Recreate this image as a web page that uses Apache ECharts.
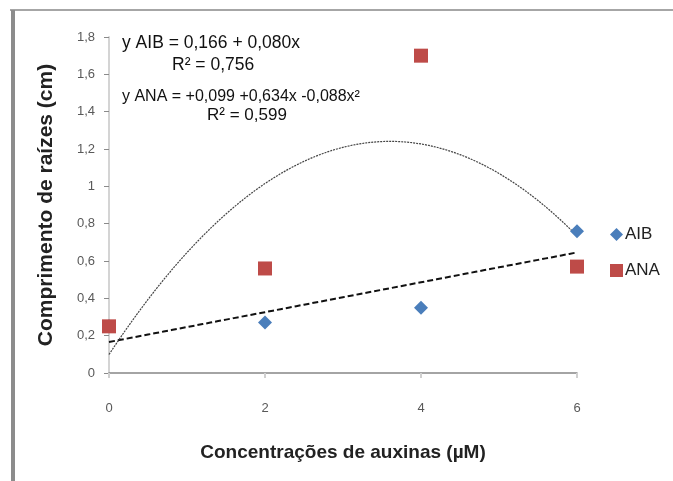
<!DOCTYPE html>
<html>
<head>
<meta charset="utf-8">
<script src="https://cdn.jsdelivr.net/npm/echarts@6/dist/echarts.min.js"></script>
<style>
  html, body { margin: 0; padding: 0; background: #fff; }
  #chart { width: 673px; height: 481px; }
</style>
</head>
<body>
<div id="chart"></div>
<script>
// data
const concentrations = [0, 2, 4, 6];
const aibValues = [0.25, 0.27, 0.35, 0.76];
const anaValues = [0.25, 0.56, 1.70, 0.57];
const yTicks = [0, 0.2, 0.4, 0.6, 0.8, 1, 1.2, 1.4, 1.6, 1.8];
const xTicks = [0, 2, 4, 6];

// trendline coefficients printed on the chart (a + b x + c x^2)
const aibFit = [0.166, 0.080, 0];
const anaFit = [0.099, 0.634, -0.088];

function trend(coef) {
  let pts = [];
  for (let i = 0; i <= 60; i++) {
    let x = i / 10;
    pts.push([x, coef[0] + coef[1] * x + coef[2] * x * x]);
  }
  return pts;
}

function pairs(xs, ys) {
  return xs.map((x, i) => [x, ys[i]]);
}

let chart = echarts.init(document.getElementById('chart'));
let font = 'Liberation Sans, Arial, sans-serif';
let option = {
  animation: false,
  grid: { left: 109, right: 96, top: 37, bottom: 108 },
  legend: {
    data: ['AIB', 'ANA'],
    orient: 'vertical',
    left: 605,
    top: 221,
    itemGap: 19,
    itemWidth: 13,
    itemHeight: 13,
    textStyle: { fontFamily: font, fontSize: 17, color: '#222', padding: [0, 0, 0, -3] }
  },
  xAxis: {
    type: 'value',
    min: 0, max: 6, interval: 2,
    name: 'Concentrações de auxinas (µM)',
    nameLocation: 'middle',
    nameGap: 70,
    nameTextStyle: { fontFamily: font, fontSize: 19, fontWeight: 'bold', color: '#222' },
    axisLine: { lineStyle: { color: '#868686', width: 1.5 } },
    axisTick: { show: true, length: 5, lineStyle: { color: '#d0d0d0', width: 2 } },
    axisLabel: {
      margin: 29, fontFamily: font, fontSize: 13, color: '#595959',
      formatter: v => xTicks.includes(v) ? String(v) : ''
    },
    splitLine: { show: false }
  },
  yAxis: {
    type: 'value',
    min: 0, max: 1.8, interval: 0.2,
    name: 'Comprimento de raízes (cm)',
    nameLocation: 'middle',
    nameGap: 52,
    nameTextStyle: { fontFamily: font, fontSize: 21, fontWeight: 'bold', color: '#222' },
    axisLine: { show: true, lineStyle: { color: '#d4d4d4', width: 2 } },
    axisTick: { show: true, length: 5, lineStyle: { color: '#8a8a8a' } },
    axisLabel: {
      margin: 14, fontFamily: font, fontSize: 13, color: '#595959',
      formatter: v => {
        let t = yTicks.find(k => Math.abs(k - v) < 1e-6);
        return t === undefined ? '' : String(Math.round(t * 10) / 10).replace('.', ',');
      }
    },
    splitLine: { show: false }
  },
  series: [
    {
      name: 'AIB trend',
      type: 'line',
      data: trend(aibFit),
      showSymbol: false,
      silent: true,
      lineStyle: { color: '#111', width: 2, type: [6, 3] },
      z: 1
    },
    {
      name: 'ANA trend',
      type: 'line',
      data: trend(anaFit),
      showSymbol: false,
      silent: true,
      lineStyle: { color: '#444', width: 1.2, type: [2, 1] },
      z: 1
    },
    {
      name: 'AIB',
      type: 'scatter',
      data: pairs(concentrations, aibValues),
      symbol: 'diamond',
      symbolSize: 14,
      itemStyle: { color: '#4a7ebb', opacity: 1 },
      z: 2
    },
    {
      name: 'ANA',
      type: 'scatter',
      data: pairs(concentrations, anaValues),
      symbol: 'rect',
      symbolSize: 14,
      itemStyle: { color: '#be4b48', opacity: 1 },
      z: 3
    }
  ],
  graphic: [
    { type: 'line', shape: { x1: 10, y1: 10, x2: 673, y2: 10 }, style: { stroke: '#a6a6a6', lineWidth: 2 } },
    { type: 'line', shape: { x1: 13, y1: 10, x2: 13, y2: 481 }, style: { stroke: '#8c8c8c', lineWidth: 4 } },
    { type: 'text', left: 122, top: 34, style: { text: 'y AIB = 0,166 + 0,080x', font: '17.5px ' + font, fill: '#111' } },
    { type: 'text', left: 172, top: 56, style: { text: 'R² = 0,756', font: '17.5px ' + font, fill: '#111' } },
    { type: 'text', left: 122, top: 89, style: { text: 'y ANA = +0,099 +0,634x -0,088x²', font: '16px ' + font, fill: '#111' } },
    { type: 'text', left: 207, top: 107, style: { text: 'R² = 0,599', font: '17px ' + font, fill: '#111' } }
  ]
};
chart.setOption(option);
</script>
</body>
</html>
